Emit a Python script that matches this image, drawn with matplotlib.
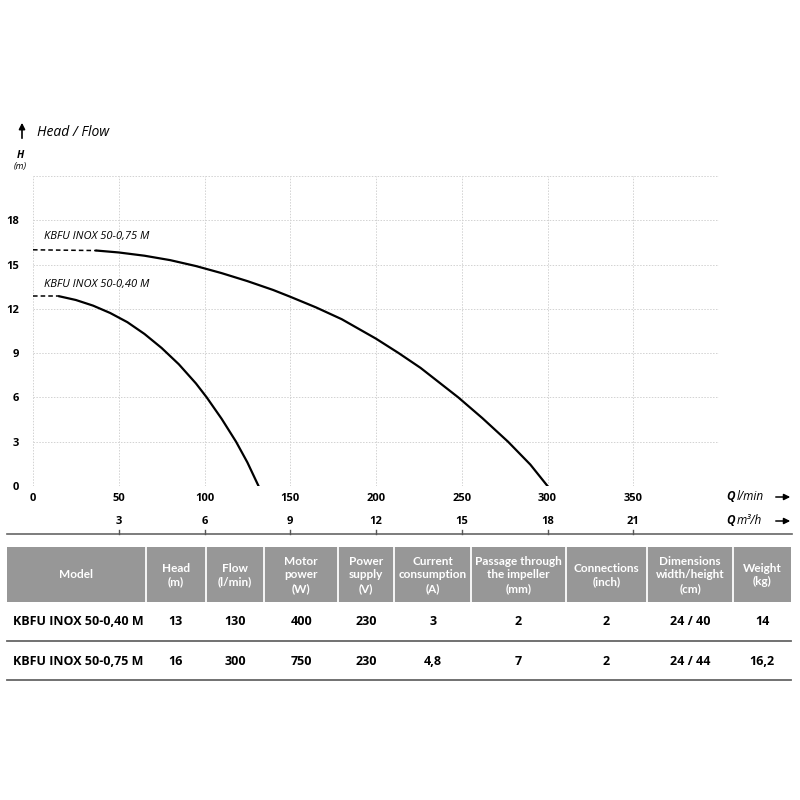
import matplotlib.pyplot as plt
import matplotlib.patches as patches

# curve points (Q in l/min, H in m)
q_075_dash = [0, 37]
h_075_dash = [16.0, 15.95]
q_075 = [37, 50, 65, 80, 95, 110, 125, 140, 150, 165, 180, 200, 213, 226, 248, 262, 277, 290, 300]
h_075 = [15.95, 15.82, 15.6, 15.3, 14.9, 14.42, 13.88, 13.28, 12.82, 12.1, 11.3, 9.98, 9.02, 8.0, 6.0, 4.6, 3.0, 1.45, 0]

q_040_dash = [0, 15.4]
h_040_dash = [12.85, 12.85]
q_040 = [15.4, 25, 35, 45, 55, 65, 75, 85, 95, 101.3, 110, 118.4, 125, 131.5]
h_040 = [12.85, 12.6, 12.22, 11.72, 11.1, 10.3, 9.35, 8.25, 6.95, 6.0, 4.55, 3.0, 1.6, 0]

label_075 = "KBFU INOX 50-0,75 M"
label_040 = "KBFU INOX 50-0,40 M"

x_ticks = [0, 50, 100, 150, 200, 250, 300, 350, 400]
x_labels = ["0", "50", "100", "150", "200", "250", "300", "350", ""]
y_ticks = [0, 3, 6, 9, 12, 15, 18, 21]
y_labels = ["0", "3", "6", "9", "12", "15", "18", ""]
m3h_ticks = [3, 6, 9, 12, 15, 18, 21]

# table
headers = ["Model", "Head\n(m)", "Flow\n(l/min)", "Motor\npower\n(W)", "Power\nsupply\n(V)",
           "Current\nconsumption\n(A)", "Passage through\nthe impeller\n(mm)", "Connections\n(inch)",
           "Dimensions\nwidth/height\n(cm)", "Weight\n(kg)"]
row_040 = ["KBFU INOX 50-0,40 M", "13", "130", "400", "230", "3", "2", "2", "24 / 40", "14"]
row_075 = ["KBFU INOX 50-0,75 M", "16", "300", "750", "230", "4,8", "7", "2", "24 / 44", "16,2"]

plt.rcParams['font.family'] = ['Open Sans', 'DejaVu Sans']

fig = plt.figure(figsize=(8, 8), dpi=100)
ax = fig.add_axes([33 / 800, 1 - 486 / 800, (719 - 33) / 800, (486 - 176) / 800])

ax.plot(q_075_dash, h_075_dash, color="black", lw=1.1, linestyle=(0, (3, 2)))
ax.plot(q_075, h_075, color="black", lw=1.6, solid_joinstyle="round")
ax.plot(q_040_dash, h_040_dash, color="black", lw=1.1, linestyle=(0, (3, 2)))
ax.plot(q_040, h_040, color="black", lw=1.6, solid_joinstyle="round")

ax.set_xlim(0, 400)
ax.set_ylim(0, 21)
ax.set_xticks(x_ticks, labels=x_labels)
ax.set_yticks(y_ticks, labels=y_labels)
ax.tick_params(length=0, labelsize=8)
ax.tick_params(axis="x", pad=5)
ax.tick_params(axis="y", pad=10)
for t in ax.get_xticklabels() + ax.get_yticklabels():
    t.set_fontweight("bold")
ax.grid(True, color="#d2d2d2", linestyle=(0, (1.5, 1.5)), lw=0.7)
for s in ax.spines.values():
    s.set_visible(False)

ax.text(6.5, 16.9, label_075, fontsize=8, style="italic", va="center")
ax.text(6.5, 13.65, label_040, fontsize=8, style="italic", va="center")

# second flow scale in m3/h (1 m3/h = 1000/60 l/min)
trans = ax.get_xaxis_transform()
for v in m3h_ticks:
    xq = v * 1000 / 60
    ax.text(xq, -0.113, str(v), transform=trans, ha="center", va="center",
            fontsize=8, fontweight="bold", clip_on=False)
    ax.plot([xq, xq], [-0.143, -0.156], transform=trans, color="#555555", lw=1, clip_on=False)

# overlay in pixel coords for labels and table
ov = fig.add_axes([0, 0, 1, 1], zorder=-1)
ov.set_xlim(0, 800)
ov.set_ylim(800, 0)
ov.axis("off")

ov.annotate("", xy=(22, 120), xytext=(22, 141),
            arrowprops=dict(arrowstyle="-|>", color="black", lw=1.2, mutation_scale=9))
ov.text(37, 133, "Head / Flow", fontsize=10, style="italic", va="center")
ov.text(20, 155, "H", fontsize=7.5, style="italic", fontweight="bold", va="center", ha="center")
ov.text(20, 167, "(m)", fontsize=6.5, style="italic", va="center", ha="center")

ov.text(726, 497, "Q", fontsize=8.5, style="italic", fontweight="bold", va="center")
ov.text(737, 497, "l/min", fontsize=8.5, style="italic", va="center")
ov.text(726, 521, "Q", fontsize=8.5, style="italic", fontweight="bold", va="center")
ov.text(737, 521, "m³/h", fontsize=8.5, style="italic", va="center")
for yy in [497, 521]:
    ov.annotate("", xy=(793, yy), xytext=(773, yy),
                arrowprops=dict(arrowstyle="-|>", color="black", lw=1.1, mutation_scale=9))

ov.plot([7, 792], [534.3, 534.3], color="#666666", lw=1.2)

edges = [7.3, 145.7, 205.7, 264.3, 338.3, 394.3, 471, 565.7, 646.7, 733.3, 790.7]
ov.add_patch(patches.Rectangle((edges[0], 547.3), edges[-1] - edges[0], 54.4,
                               facecolor="#979797", edgecolor="none"))
for e in edges[1:-1]:
    ov.plot([e, e], [547.3, 601.7], color="white", lw=1.3)

for i, h in enumerate(headers):
    cx = (edges[i] + edges[i + 1]) / 2
    ov.text(cx, 575, h, ha="center", va="center", color="white", fontsize=8.5,
            fontweight="bold", family="Lato", linespacing=1.3)

for row, yy in [(row_040, 621.7), (row_075, 661.7)]:
    for i, val in enumerate(row):
        if i == 0:
            ov.text(12.7, yy, val, ha="left", va="center", fontsize=9, fontweight="bold")
        else:
            cx = (edges[i] + edges[i + 1]) / 2
            ov.text(cx, yy, val, ha="center", va="center", fontsize=9, fontweight="bold")

for yy in [640.7, 680]:
    ov.plot([edges[0], edges[-1]], [yy, yy], color="#666666", lw=1.3)

fig.savefig("out.png", dpi=100)
